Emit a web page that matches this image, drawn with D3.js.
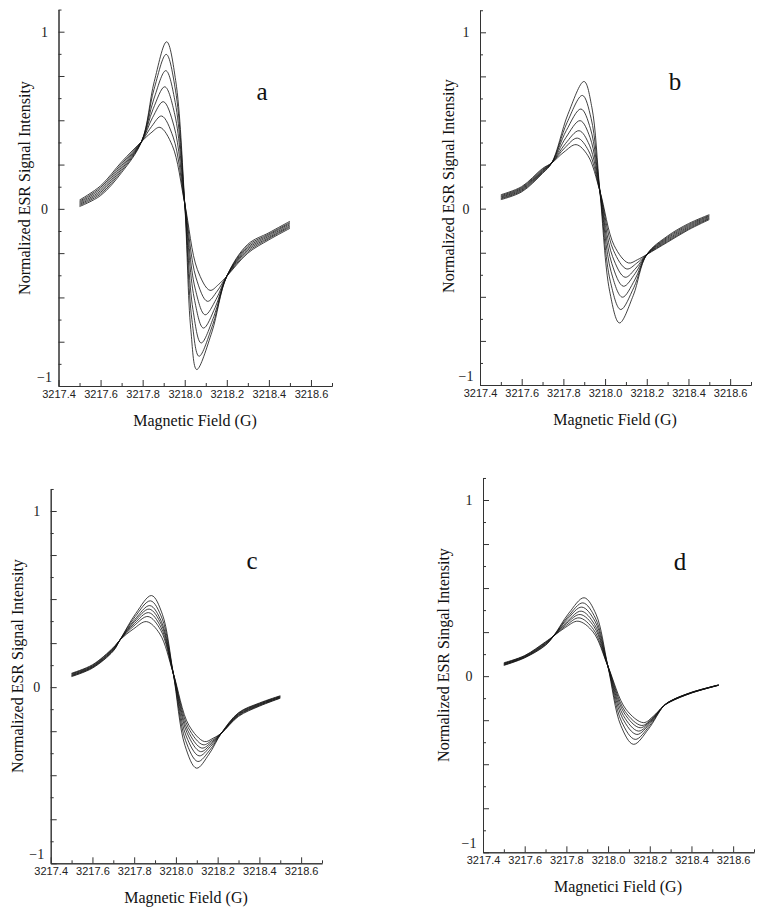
<!DOCTYPE html>
<html>
<head>
<meta charset="utf-8">
<title>ESR spectra</title>
<style>
  body { margin: 0; background: #fff; }
  .axis path, .axis line { stroke: #333; stroke-width: 1; }
  .spectrum { fill: none; stroke: #111; stroke-width: 0.8; }
</style>
</head>
<body>
<svg id="chart" width="765" height="912"></svg>
<script src="https://d3js.org/d3.v7.min.js"></script>
<script>
// tick values
const fieldTicks = [3217.4, 3217.6, 3217.8, 3218.0, 3218.2, 3218.4, 3218.6];
const fieldMinorTicks = [3217.5, 3217.7, 3217.9, 3218.1, 3218.3, 3218.5, 3218.7];
const intensityTicks = [-1, -0.75, -0.5, -0.25, 0, 0.25, 0.5, 0.75, 1];
const intensityMinorTicks = [-0.875, -0.625, -0.375, -0.125, 0.125, 0.375, 0.625, 0.875, 1.125];
const intensityLabels = [1, 0, -1];

// spectra, [field, intensity], largest amplitude first
const curvesA = [
  [[3217.5,0.013],[3217.6,0.075],[3217.7,0.205],[3217.795,0.38],[3217.855,0.718],[3217.914,0.943],[3217.957,0.724],[3218.0,0.03],[3218.029,-0.682],[3218.057,-0.907],[3218.129,-0.696],[3218.2,-0.38],[3218.3,-0.200],[3218.4,-0.135],[3218.5,-0.070]],
  [[3217.5,0.019],[3217.6,0.084],[3217.7,0.215],[3217.795,0.38],[3217.854,0.675],[3217.912,0.872],[3217.956,0.670],[3218.0,0.03],[3218.034,-0.625],[3218.068,-0.832],[3218.134,-0.651],[3218.2,-0.38],[3218.3,-0.208],[3218.4,-0.142],[3218.5,-0.077]],
  [[3217.5,0.025],[3217.6,0.093],[3217.7,0.225],[3217.795,0.38],[3217.853,0.620],[3217.910,0.780],[3217.955,0.600],[3218.0,0.03],[3218.039,-0.568],[3218.078,-0.757],[3218.139,-0.606],[3218.2,-0.38],[3218.3,-0.217],[3218.4,-0.148],[3218.5,-0.083]],
  [[3217.5,0.031],[3217.6,0.102],[3217.7,0.235],[3217.795,0.38],[3217.850,0.565],[3217.905,0.689],[3217.953,0.531],[3218.0,0.03],[3218.045,-0.504],[3218.089,-0.673],[3218.145,-0.556],[3218.2,-0.38],[3218.3,-0.225],[3218.4,-0.155],[3218.5,-0.090]],
  [[3217.5,0.037],[3217.6,0.112],[3217.7,0.245],[3217.795,0.38],[3217.847,0.515],[3217.898,0.605],[3217.949,0.467],[3218.0,0.03],[3218.049,-0.447],[3218.097,-0.598],[3218.149,-0.511],[3218.2,-0.38],[3218.3,-0.233],[3218.4,-0.162],[3218.5,-0.097]],
  [[3217.5,0.043],[3217.6,0.121],[3217.7,0.255],[3217.795,0.38],[3217.843,0.466],[3217.890,0.524],[3217.945,0.405],[3218.0,0.03],[3218.054,-0.390],[3218.108,-0.522],[3218.154,-0.465],[3218.2,-0.38],[3218.3,-0.242],[3218.4,-0.168],[3218.5,-0.103]],
  [[3217.5,0.050],[3217.6,0.130],[3217.7,0.265],[3217.795,0.38],[3217.839,0.428],[3217.882,0.460],[3217.941,0.357],[3218.0,0.03],[3218.060,-0.342],[3218.120,-0.460],[3218.160,-0.428],[3218.2,-0.38],[3218.3,-0.250],[3218.4,-0.175],[3218.5,-0.110]]
];

const curvesB = [
  [[3217.5,0.051],[3217.6,0.095],[3217.7,0.200],[3217.744,0.259],[3217.822,0.536],[3217.899,0.721],[3217.937,0.572],[3217.975,0.10],[3218.022,-0.468],[3218.069,-0.648],[3218.135,-0.493],[3218.2,-0.26],[3218.3,-0.155],[3218.4,-0.085],[3218.5,-0.034]],
  [[3217.5,0.056],[3217.6,0.100],[3217.7,0.205],[3217.744,0.259],[3217.818,0.489],[3217.891,0.642],[3217.933,0.512],[3217.975,0.10],[3218.025,-0.411],[3218.075,-0.572],[3218.138,-0.447],[3218.2,-0.26],[3218.3,-0.161],[3218.4,-0.091],[3218.5,-0.039]],
  [[3217.5,0.060],[3217.6,0.105],[3217.7,0.210],[3217.744,0.259],[3217.814,0.443],[3217.884,0.565],[3217.930,0.453],[3217.975,0.10],[3218.029,-0.358],[3218.083,-0.502],[3218.142,-0.405],[3218.2,-0.26],[3218.3,-0.167],[3218.4,-0.097],[3218.5,-0.043]],
  [[3217.5,0.065],[3217.6,0.110],[3217.7,0.214],[3217.744,0.259],[3217.812,0.403],[3217.880,0.499],[3217.928,0.403],[3217.975,0.10],[3218.032,-0.310],[3218.088,-0.440],[3218.144,-0.368],[3218.2,-0.26],[3218.3,-0.173],[3218.4,-0.103],[3218.5,-0.048]],
  [[3217.5,0.069],[3217.6,0.115],[3217.7,0.218],[3217.744,0.259],[3217.810,0.369],[3217.875,0.442],[3217.925,0.360],[3217.975,0.10],[3218.036,-0.272],[3218.096,-0.389],[3218.148,-0.337],[3218.2,-0.26],[3218.3,-0.179],[3218.4,-0.109],[3218.5,-0.053]],
  [[3217.5,0.074],[3217.6,0.120],[3217.7,0.223],[3217.744,0.259],[3217.806,0.344],[3217.867,0.400],[3217.921,0.328],[3217.975,0.10],[3218.040,-0.236],[3218.104,-0.342],[3218.152,-0.309],[3218.2,-0.26],[3218.3,-0.185],[3218.4,-0.115],[3218.5,-0.057]],
  [[3217.5,0.079],[3217.6,0.125],[3217.7,0.228],[3217.744,0.259],[3217.803,0.321],[3217.861,0.363],[3217.918,0.300],[3217.975,0.10],[3218.044,-0.210],[3218.112,-0.308],[3218.156,-0.289],[3218.2,-0.26],[3218.3,-0.190],[3218.4,-0.120],[3218.5,-0.062]]
];

const curvesC = [
  [[3217.5,0.060],[3217.6,0.108],[3217.7,0.205],[3217.732,0.268],[3217.808,0.419],[3217.883,0.520],[3217.935,0.414],[3217.987,0.08],[3218.043,-0.330],[3218.099,-0.460],[3218.159,-0.380],[3218.218,-0.261],[3218.3,-0.145],[3218.4,-0.090],[3218.5,-0.049]],
  [[3217.5,0.063],[3217.6,0.111],[3217.7,0.208],[3217.732,0.268],[3217.805,0.401],[3217.878,0.490],[3217.933,0.392],[3217.987,0.08],[3218.046,-0.302],[3218.105,-0.422],[3218.162,-0.358],[3218.218,-0.261],[3218.3,-0.148],[3218.4,-0.093],[3218.5,-0.051]],
  [[3217.5,0.066],[3217.6,0.114],[3217.7,0.212],[3217.732,0.268],[3217.804,0.385],[3217.875,0.463],[3217.931,0.371],[3217.987,0.08],[3218.049,-0.277],[3218.111,-0.390],[3218.165,-0.338],[3218.218,-0.261],[3218.3,-0.151],[3218.4,-0.096],[3218.5,-0.054]],
  [[3217.5,0.069],[3217.6,0.117],[3217.7,0.215],[3217.732,0.268],[3217.802,0.373],[3217.872,0.443],[3217.930,0.356],[3217.987,0.08],[3218.053,-0.259],[3218.118,-0.366],[3218.168,-0.324],[3218.218,-0.261],[3218.3,-0.155],[3218.4,-0.099],[3218.5,-0.056]],
  [[3217.5,0.073],[3217.6,0.120],[3217.7,0.218],[3217.732,0.268],[3217.801,0.361],[3217.869,0.423],[3217.928,0.341],[3217.987,0.08],[3218.056,-0.244],[3218.124,-0.346],[3218.171,-0.312],[3218.218,-0.261],[3218.3,-0.158],[3218.4,-0.102],[3218.5,-0.058]],
  [[3217.5,0.076],[3217.6,0.124],[3217.7,0.222],[3217.732,0.268],[3217.799,0.348],[3217.866,0.401],[3217.927,0.324],[3217.987,0.08],[3218.059,-0.229],[3218.130,-0.327],[3218.174,-0.301],[3218.218,-0.261],[3218.3,-0.162],[3218.4,-0.105],[3218.5,-0.061]],
  [[3217.5,0.079],[3217.6,0.127],[3217.7,0.225],[3217.732,0.268],[3217.796,0.330],[3217.859,0.372],[3217.923,0.302],[3217.987,0.08],[3218.062,-0.216],[3218.137,-0.309],[3218.178,-0.290],[3218.218,-0.261],[3218.3,-0.166],[3218.4,-0.108],[3218.5,-0.063]]
];

const curvesD = [
  [[3217.5,0.061],[3217.6,0.104],[3217.7,0.175],[3217.738,0.227],[3217.812,0.358],[3217.885,0.445],[3217.942,0.352],[3217.999,0.057],[3218.061,-0.280],[3218.122,-0.387],[3218.194,-0.300],[3218.266,-0.17],[3218.3,-0.140],[3218.4,-0.092],[3218.53,-0.050]],
  [[3217.5,0.063],[3217.6,0.106],[3217.7,0.178],[3217.738,0.227],[3217.809,0.340],[3217.879,0.416],[3217.939,0.330],[3217.999,0.057],[3218.065,-0.259],[3218.130,-0.359],[3218.198,-0.283],[3218.266,-0.17],[3218.3,-0.141],[3218.4,-0.092],[3218.53,-0.050]],
  [[3217.5,0.066],[3217.6,0.108],[3217.7,0.182],[3217.738,0.227],[3217.806,0.326],[3217.874,0.392],[3217.937,0.312],[3217.999,0.057],[3218.069,-0.238],[3218.138,-0.331],[3218.202,-0.267],[3218.266,-0.17],[3218.3,-0.141],[3218.4,-0.093],[3218.53,-0.051]],
  [[3217.5,0.068],[3217.6,0.110],[3217.7,0.185],[3217.738,0.227],[3217.805,0.312],[3217.871,0.369],[3217.935,0.294],[3217.999,0.057],[3218.073,-0.223],[3218.146,-0.312],[3218.206,-0.255],[3218.266,-0.17],[3218.3,-0.142],[3218.4,-0.094],[3218.53,-0.051]],
  [[3217.5,0.071],[3217.6,0.113],[3217.7,0.188],[3217.738,0.227],[3217.802,0.301],[3217.866,0.350],[3217.933,0.280],[3217.999,0.057],[3218.077,-0.209],[3218.154,-0.293],[3218.210,-0.244],[3218.266,-0.17],[3218.3,-0.143],[3218.4,-0.095],[3218.53,-0.051]],
  [[3217.5,0.073],[3217.6,0.115],[3217.7,0.192],[3217.738,0.227],[3217.800,0.289],[3217.861,0.331],[3217.930,0.265],[3217.999,0.057],[3218.081,-0.199],[3218.162,-0.280],[3218.214,-0.236],[3218.266,-0.17],[3218.3,-0.144],[3218.4,-0.095],[3218.53,-0.052]],
  [[3217.5,0.076],[3217.6,0.117],[3217.7,0.195],[3217.738,0.227],[3217.797,0.278],[3217.856,0.312],[3217.928,0.251],[3217.999,0.057],[3218.085,-0.187],[3218.170,-0.264],[3218.218,-0.226],[3218.266,-0.17],[3218.3,-0.145],[3218.4,-0.096],[3218.53,-0.052]]
];

const yTitle = 'Normalized ESR Signal Intensity';
const yTitleD = 'Normalized ESR Singal Intensity';
const xTitle = 'Magnetic Field (G)';
const xTitleD = 'Magnetici Field (G)';

const serif = '"Liberation Serif", "Times New Roman", serif';
const sans = '"Liberation Sans", Arial, sans-serif';

// where each panel sits on the page
const panels = [
  { letter: 'a', curves: curvesA, left: 58.5, right: 332, yOne: 31.7, yMinusOne: 386,
    letterPos: [262, 100], xTitlePos: [195, 426], yTitlePos: [24, 188], yText: yTitle, xText: xTitle },
  { letter: 'b', curves: curvesB, left: 480, right: 751, yOne: 32.3, yMinusOne: 385,
    letterPos: [675, 90], xTitlePos: [615, 425], yTitlePos: [448, 186], yText: yTitle, xText: xTitle },
  { letter: 'c', curves: curvesC, left: 50.7, right: 322, yOne: 511, yMinusOne: 863.3,
    letterPos: [252, 569], xTitlePos: [186, 903], yTitlePos: [17, 666], yText: yTitle, xText: xTitle },
  { letter: 'd', curves: curvesD, left: 483, right: 754, yOne: 500, yMinusOne: 852.3,
    letterPos: [680, 570], xTitlePos: [618, 892], yTitlePos: [443, 655], yText: yTitleD, xText: xTitleD }
];

const svg = d3.select('#chart');

panels.forEach(p => {
  const unit = (p.yMinusOne - p.yOne) / 2;
  const x = d3.scaleLinear().domain([3217.4, 3218.7]).range([p.left, p.right]);
  const y = d3.scaleLinear().domain([-1, 1.125]).range([p.yMinusOne, p.yOne - 0.125 * unit]);

  const g = svg.append('g');

  // x axis: labelled major ticks + short minor ticks, both pointing up
  const xAx = g.append('g')
    .attr('class', 'axis')
    .attr('transform', `translate(0,${p.yMinusOne})`)
    .call(d3.axisBottom(x).tickValues(fieldTicks).tickFormat(d3.format('.1f'))
      .tickSizeInner(-6).tickSizeOuter(0).tickPadding(4));
  xAx.selectAll('text')
    .attr('font-family', sans).attr('font-size', 11).attr('fill', '#222');
  g.append('g')
    .attr('class', 'axis')
    .attr('transform', `translate(0,${p.yMinusOne})`)
    .call(d3.axisBottom(x).tickValues(fieldMinorTicks).tickFormat('')
      .tickSizeInner(-3).tickSizeOuter(0));

  // y axis
  const yAx = g.append('g')
    .attr('class', 'axis')
    .attr('transform', `translate(${p.left},0)`)
    .call(d3.axisLeft(y).tickValues(intensityTicks)
      .tickFormat(d => intensityLabels.includes(d) ? d3.format('d')(d) : '')
      .tickSizeInner(-6).tickSizeOuter(0));
  yAx.selectAll('text')
    .attr('font-family', serif).attr('font-size', 14).attr('fill', '#222')
    .attr('text-anchor', 'middle').attr('x', -14)
    .filter(d => d === -1).attr('dy', '-0.35em');
  g.append('g')
    .attr('class', 'axis')
    .attr('transform', `translate(${p.left},0)`)
    .call(d3.axisLeft(y).tickValues(intensityMinorTicks).tickFormat('')
      .tickSizeInner(-3).tickSizeOuter(0));

  // spectra
  const line = d3.line()
    .x(d => x(d[0]))
    .y(d => y(d[1]))
    .curve(d3.curveCatmullRom.alpha(0.5));

  g.append('g')
    .selectAll('path')
    .data(p.curves)
    .join('path')
    .attr('class', 'spectrum')
    .attr('d', line);

  // titles
  g.append('text')
    .attr('x', p.xTitlePos[0]).attr('y', p.xTitlePos[1])
    .attr('text-anchor', 'middle')
    .attr('font-family', serif).attr('font-size', 16).attr('fill', '#111')
    .text(p.xText);

  g.append('text')
    .attr('transform', `translate(${p.yTitlePos[0]},${p.yTitlePos[1]}) rotate(-90)`)
    .attr('text-anchor', 'middle')
    .attr('dy', '0.35em')
    .attr('font-family', serif).attr('font-size', 16).attr('fill', '#111')
    .text(p.yText);

  g.append('text')
    .attr('x', p.letterPos[0]).attr('y', p.letterPos[1])
    .attr('text-anchor', 'middle')
    .attr('font-family', serif).attr('font-size', 25).attr('fill', '#111')
    .text(p.letter);
});
</script>
</body>
</html>
